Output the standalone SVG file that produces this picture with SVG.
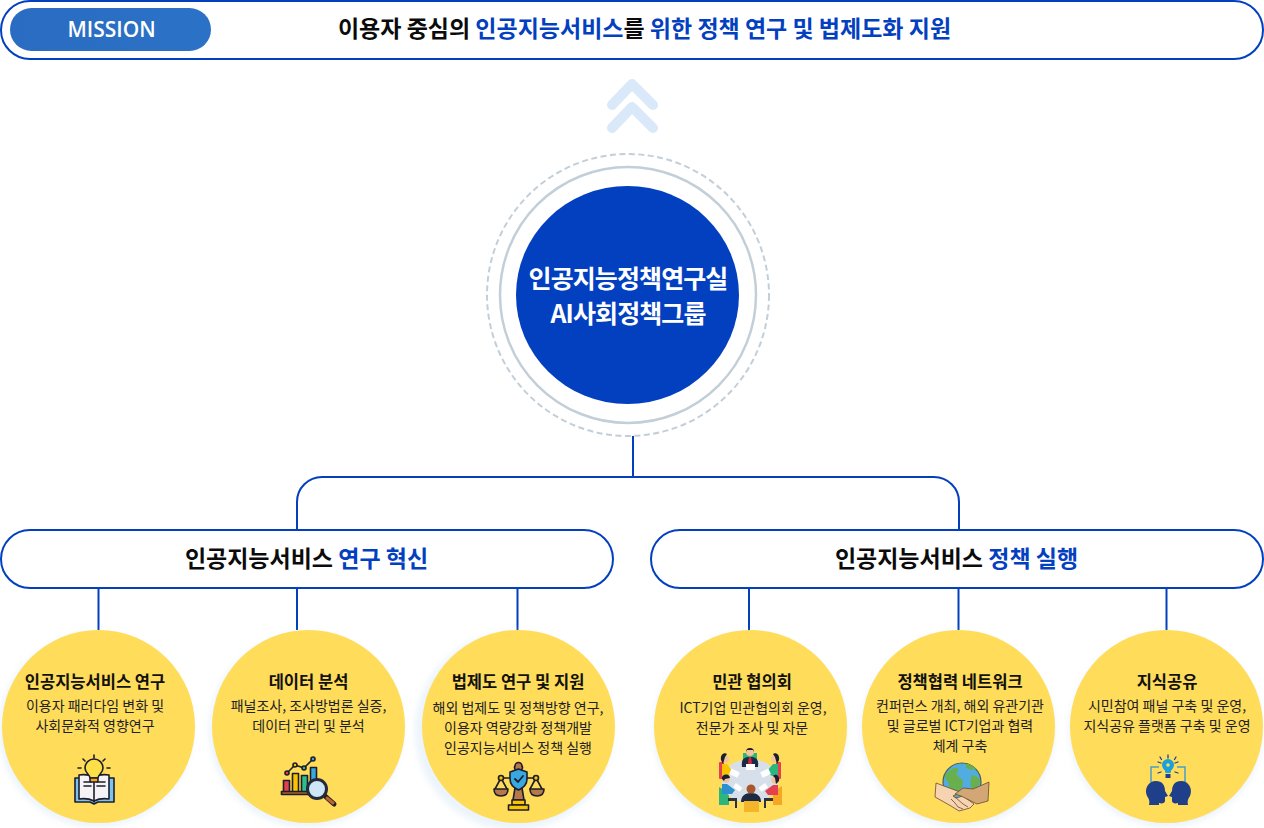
<svg xmlns="http://www.w3.org/2000/svg" width="1264" height="828" viewBox="0 0 1264 828">
<style>
text{font-family:"Noto Sans CJK KR","Noto Sans",sans-serif;text-anchor:middle}
.blue{fill:#0340bf}
.pill{fill:#fff;stroke:#0340bf;stroke-width:2}
.head{font-size:23px;font-weight:700;fill:#0b0b0b}
.tt{font-size:16.500px;font-weight:700;fill:#111}
.ds{font-size:14px;font-weight:400;fill:#222}
.core-label{font-size:25px;font-weight:700;fill:#fff;letter-spacing:-.9px}
.disc{fill:#ffdc5a}
.halo{fill:#dcebf8;opacity:.55;filter:url(#soft)}
.wire{fill:none;stroke:#0340bf;stroke-width:2}
.ol{stroke:#1d1d2b;stroke-width:1.6;stroke-linejoin:round;stroke-linecap:round}
.ln{fill:none;stroke:#1d1d2b;stroke-width:1.6;stroke-linecap:round;stroke-linejoin:round}
</style>
<defs>
<filter id="soft" x="-20%" y="-20%" width="140%" height="140%"><feGaussianBlur stdDeviation="3"/></filter>
<linearGradient id="badge" x1="0" y1="0" x2="1" y2="0"><stop offset="0" stop-color="#2a6cc2"/><stop offset="1" stop-color="#2b72c6"/></linearGradient>
</defs>

<g id="mission">
<rect class="pill" x="1" y="1" width="1262" height="58" rx="29"/>
<rect x="10" y="8" width="201" height="43" rx="21.500" fill="url(#badge)"/>
<text x="111.500" y="37" style="font-family:'Open Sans','Noto Sans',sans-serif;font-size:21px;font-weight:600;fill:#fff">MISSION</text>
<text class="head" x="644.500" y="37">이용자 중심의 <tspan class="blue">인공지능서비스</tspan>를 <tspan class="blue">위한 정책 연구 및 법제도화 지원</tspan></text>
</g>

<g id="chevrons" fill="none" stroke="#d9e9f9" stroke-width="10" stroke-linecap="round" stroke-linejoin="round">
<path d="M612 105 632 84 653 105"/>
<path d="M612 128 632 107 653 128"/>
</g>

<g id="connectors">
<path class="wire" d="M633 436V478"/>
<path class="wire" d="M297 530V502a25 25 0 0 1 25-25H934a25 25 0 0 1 25 25V530"/>
<path class="wire" d="M98.500 588V630M297 588V630M517.500 588V633M749 588V633M958.500 588V630M1166.500 586V630"/>
</g>

<g id="core">
<circle cx="628" cy="295" r="141" fill="#fff" stroke="#c3cfd8" stroke-width="2" stroke-dasharray="6 3.500"/>
<circle cx="628" cy="295" r="128" fill="#fff" stroke="#c3cfd8" stroke-width="2.500"/>
<ellipse cx="627.500" cy="295" rx="111.500" ry="109" fill="#0340bf"/>
<text class="core-label" x="628" y="288">인공지능정책연구실</text>
<text class="core-label" x="628" y="323">AI사회정책그룹</text>
</g>

<g id="group-research">
<rect class="pill" x="1" y="530" width="612" height="58" rx="29"/>
<text class="head" x="306.500" y="567">인공지능서비스 <tspan class="blue">연구 혁신</tspan></text>
</g>
<g id="group-policy">
<rect class="pill" x="651" y="530" width="612" height="58" rx="29"/>
<text class="head" x="956.500" y="567">인공지능서비스 <tspan class="blue">정책 실행</tspan></text>
</g>

<g id="node-service-research">
<circle class="halo" cx="96" cy="730" r="97"/>
<circle class="disc" cx="98.500" cy="726.500" r="96.500"/>
<text class="tt" x="95" y="688">인공지능서비스 연구</text>
<text class="ds" x="95" y="711">이용자 패러다임 변화 및</text>
<text class="ds" x="95" y="731">사회문화적 영향연구</text>
<g id="icon-book">
<path class="ol" d="M75 778h5v-1l14 2 14-2v1h6v24H98l-4 2-4-2H75z" fill="#7cc4ee"/>
<path class="ol" d="M79 775c6-1 11 0 15 2 4-2 9-3 15-2v24c-6-1-11 0-15 2-4-2-9-3-15-2z" fill="#f6f3f6"/>
<path class="ln" d="M94 777v25M84 782h7M84 786h7M97 782h8M97 786h8"/>
<path class="ol" d="M90 778c0-3-5-5-5-10a9 9 0 0 1 18 0c0 5-5 7-5 10z" fill="#fde047"/>
<rect class="ol" x="90" y="778" width="8" height="4" rx="1" fill="#f5a623"/>
<path class="ln" d="M94 755v3M83 759l2 2M105 759l-2 2M78 768h3M107 768h3"/>
</g>
</g>

<g id="node-data">
<circle class="halo" cx="306" cy="730" r="97"/>
<circle class="disc" cx="308.500" cy="726.500" r="96.500"/>
<text class="tt" x="308.500" y="688">데이터 분석</text>
<text class="ds" x="308.500" y="711">패널조사, 조사방법론 실증,</text>
<text class="ds" x="308.500" y="731">데이터 관리 및 분석</text>
<g id="icon-chart">
<rect class="ol" x="283.500" y="780.500" width="6" height="12" fill="#e4404f"/>
<rect class="ol" x="292.500" y="773.500" width="6" height="19" fill="#fac400"/>
<rect class="ol" x="301.500" y="775.500" width="6" height="17" fill="#2cbf8e"/>
<rect class="ol" x="310.500" y="767.500" width="6" height="25" fill="#38a9e0"/>
<rect class="ol" x="281.500" y="791.500" width="30" height="3" fill="#a5622d"/>
<path class="ln" d="M287 773 295 765 304 768 313 759"/>
<circle class="ol" cx="287" cy="773" r="2" fill="#e4404f"/>
<circle class="ol" cx="295" cy="765" r="2" fill="#fac400"/>
<circle class="ol" cx="304" cy="768" r="2" fill="#2cbf8e"/>
<circle class="ol" cx="313" cy="759" r="2" fill="#38a9e0"/>
<path d="M325 796 334 804" stroke="#1d1d2b" stroke-width="5" stroke-linecap="round"/>
<path d="M327 798 333 803" stroke="#c0652b" stroke-width="3" stroke-linecap="round"/>
<circle cx="317" cy="789" r="9.500" fill="#cfe6f6" stroke="#252b3a" stroke-width="3"/>
</g>
</g>

<g id="node-law">
<circle class="halo" cx="514" cy="731" r="99"/>
<circle class="disc" cx="518.500" cy="726.500" r="96.500"/>
<text class="tt" x="518" y="688">법제도 연구 및 지원</text>
<text class="ds" x="518" y="713">해외 법제도 및 정책방향 연구,</text>
<text class="ds" x="518" y="733">이용자 역량강화 정책개발</text>
<text class="ds" x="518" y="753">인공지능서비스 정책 실행</text>
<g id="icon-scale">
<path class="ln" d="M501 778H536M501 778 495 789M501 778 507 789M536 778 530 789M536 778 542 789"/>
<circle class="ol" cx="501" cy="778" r="2.500" fill="#fac400"/>
<circle class="ol" cx="536" cy="778" r="2.500" fill="#fac400"/>
<path class="ol" d="M494 789h14c0 5-3 7-7 7s-7-2-7-7z" fill="#b5784a"/>
<path class="ol" d="M530 789h14c0 5-3 7-7 7s-7-2-7-7z" fill="#b5784a"/>
<path class="ol" d="M516 770a3 3 0 0 1-1-4 3.500 3.500 0 1 1 7 0 3 3 0 0 1-1 4zM515 788h7l2 12h-11z" fill="#b5784a"/>
<path class="ol" d="M518.500 769l8.500 3v7c0 5-4 9-8.500 11-4.500-2-8.500-6-8.500-11v-7z" fill="#38a9e0"/>
<path d="M515 779l3 3 5-6" fill="none" stroke="#1d1d2b" stroke-width="1.800" stroke-linecap="round"/>
<rect class="ol" x="512" y="800" width="13" height="5" fill="#fac400"/>
<rect class="ol" x="508.500" y="805" width="20" height="5" fill="#fac400"/>
</g>
</g>

<g id="node-council">
<circle class="halo" cx="750" cy="730" r="97"/>
<circle class="disc" cx="750.500" cy="726.500" r="96.500"/>
<text class="tt" x="752" y="688">민관 협의회</text>
<text class="ds" x="753" y="713">ICT기업 민관협의회 운영,</text>
<text class="ds" x="752" y="733">전문가 조사 및 자문</text>
<g id="icon-meeting">
<rect x="743" y="753" width="14" height="9" fill="#2cb67d"/>
<rect x="719" y="762" width="5" height="17" rx="1" fill="#e4404f"/>
<rect x="776" y="762" width="5" height="17" rx="1" fill="#e4404f"/>
<path d="M719 787l10 6v12h-10z" fill="#2cb67d"/>
<path d="M782 786l-9 6v13h9z" fill="#f5a623"/>
<ellipse cx="750" cy="781" rx="28" ry="22" fill="#d7e0ea"/>
<path d="M742 767c-1-8 2-10 8-10s9 2 8 10z" fill="#1d2a44"/>
<path d="M749 757h2l1 6-2 3-2-3z" fill="#d0263c"/>
<circle cx="750" cy="752" r="4" fill="#f1c3a0"/>
<path d="M746 752a4 4 0 0 1 8 0l-1-2h-6z" fill="#1d1d2b"/>
<rect x="746" y="764" width="9" height="6" fill="#fff"/>
<circle cx="725" cy="759" r="3.800" fill="#f1c3a0"/>
<path d="M721 760c-1-5 3-8 6-6l-2 3-2 7z" fill="#1d1d2b"/>
<path d="M722 764h5l6 8-6 4h-5z" fill="#fac400"/>
<rect x="730" y="770" width="9" height="6" fill="#fff" transform="rotate(25 734 773)"/>
<circle cx="775" cy="759" r="3.800" fill="#f1c3a0"/>
<path d="M779 760c1-5-3-8-6-6l2 3 2 7z" fill="#1d1d2b"/>
<path d="M778 764h-5l-7 8 6 4h6z" fill="#2cb67d"/>
<rect x="761" y="770" width="9" height="6" fill="#fff" transform="rotate(-25 766 773)"/>
<circle cx="726" cy="779" r="3.800" fill="#f1c3a0"/>
<path d="M722 779a4 4 0 0 1 8-1l-5 1-1 2z" fill="#1d1d2b"/>
<path d="M722 784h5l8 6-3 4h-10z" fill="#2c8fd0"/>
<rect x="734" y="785" width="8" height="5" fill="#fff" transform="rotate(35 738 787)"/>
<circle cx="775" cy="780" r="3.800" fill="#f1c3a0"/>
<path d="M779 781c1-5-3-8-6-5l2 2 1 6z" fill="#1d1d2b"/>
<path d="M778 785h-5l-8 6 3 4h10z" fill="#e4404f"/>
<rect x="759" y="785" width="8" height="5" fill="#fff" transform="rotate(-35 763 787)"/>
<path d="M741 802c0-6 4-9 10-9s10 3 10 9z" fill="#1d2a44"/>
<circle cx="751" cy="789" r="4.500" fill="#a8572c"/>
<rect x="744" y="801" width="15" height="11" fill="#f5b52a"/>
<path d="M728 798h9v10h-2v-7h-7zM773 798h-9v10h2v-7h7z" fill="#2a3140"/>
</g>
</g>

<g id="node-network">
<circle class="halo" cx="958" cy="730" r="97"/>
<circle class="disc" cx="958.500" cy="726.500" r="96.500"/>
<text class="tt" x="960" y="688">정책협력 네트워크</text>
<text class="ds" x="960" y="711">컨퍼런스 개최, 해외 유관기관</text>
<text class="ds" x="960" y="731">및 글로벌 ICT기업과 협력</text>
<text class="ds" x="960" y="751">체계 구축</text>
<g id="icon-globe">
<circle cx="962" cy="782" r="19" fill="#51ade0" stroke="#47624a" stroke-width="1.200"/>
<path d="M945 775c4-4 8-8 13-7 1 3-2 4-1 7 2 3 7 4 6 9-2 5-5 8-7 13-5-3-7-8-7-13-2-3-4-6-4-9z" fill="#6aaf4e"/>
<path d="M966 764c4 0 8 2 10 5l-5 1-5-2zM972 775c4 1 7 2 8 6-1 4-3 7-6 10-3-2-5-8-2-16z" fill="#6aaf4e"/>
<path d="M936 783l24 9-7 4 3 2 7-2 11 8-4 4-11 3-8-5-16-9z" fill="#f6d4b2" stroke="#6b4a2c" stroke-width=".8"/>
<path d="M989 782l-1 19-11 3-16-8-6-2 8-6 10 1z" fill="#d3a676" stroke="#6b4a2c" stroke-width=".8"/>
<path d="M951 799l4 4 3 4 5 2M955 797l8 7 5 3" fill="none" stroke="#6b4a2c" stroke-width=".8"/>
</g>
</g>

<g id="node-knowledge">
<circle class="halo" cx="1166" cy="730" r="97"/>
<circle class="disc" cx="1166.500" cy="726.500" r="96.500"/>
<text class="tt" x="1167" y="688">지식공유</text>
<text class="ds" x="1167" y="711">시민참여 패널 구축 및 운영,</text>
<text class="ds" x="1167" y="731">지식공유 플랫폼 구축 및 운영</text>
<g id="icon-minds">
<path d="M1151 782v-15h8M1177 767h8v15" fill="none" stroke="#4a9dc9" stroke-width="1.500"/>
<circle cx="1168" cy="765" r="6" fill="#1aa0dc"/>
<path d="M1164.500 769h7l-1 4h-5z" fill="#1aa0dc"/>
<rect x="1165.500" y="774" width="5" height="4" fill="#1f3f8a"/>
<circle cx="1168" cy="765" r="1.800" fill="#ffdc5a"/>
<path d="M1168 755v3M1160 757l1.500 2.500M1176 757l-1.500 2.500M1158 762l3 1M1178 762l-3 1M1158 773l3-1M1178 773l-3-1" stroke="#1f3f8a" stroke-width="1.300" stroke-linecap="round"/>
<path d="M1149 805c1-4 0-6-2-9-3-7 1-15 9-15 6 0 9 4 9 10l3 5-3 1v4c0 2-3 3-6 2v2z" fill="#1f3f8a"/>
<path d="M1188 805c-1-4 0-6 2-9 3-7-1-15-9-15-6 0-9 4-9 10l-3 5 3 1v4c0 2 3 3 6 2v2z" fill="#1f3f8a"/>
</g>
</g>
</svg>
